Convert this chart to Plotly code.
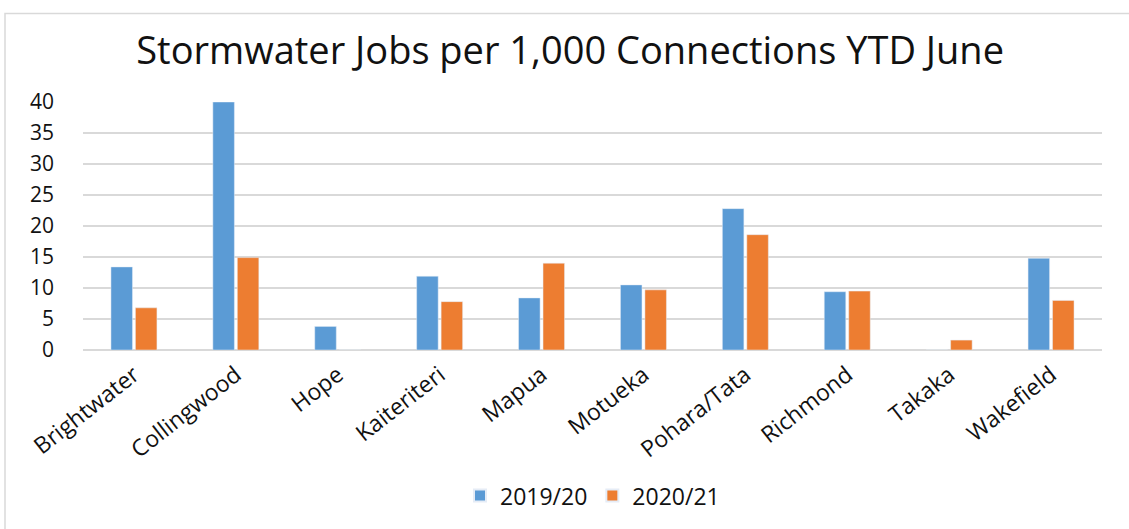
import plotly.graph_objects as go

towns = [
    "Brightwater", "Collingwood", "Hope", "Kaiteriteri", "Mapua",
    "Motueka", "Pohara/Tata", "Richmond", "Takaka", "Wakefield",
]
jobs_2019_20 = [13.4, 40.0, 3.8, 11.9, 8.4, 10.5, 22.8, 9.4, 0, 14.8]
jobs_2020_21 = [6.8, 14.9, 0, 7.8, 14.0, 9.7, 18.6, 9.5, 1.6, 8.0]
y_ticks = [0, 5, 10, 15, 20, 25, 30, 35, 40]

fig = go.Figure()
fig.add_trace(go.Bar(x=towns, y=jobs_2019_20, name="2019/20", marker_color="#5B9BD5"))
fig.add_trace(go.Bar(x=towns, y=jobs_2020_21, name="2020/21", marker_color="#ED7D31"))

fig.update_layout(
    width=1129,
    height=529,
    margin=dict(l=83, r=27, t=102, b=175),
    paper_bgcolor="white",
    plot_bgcolor="white",
    font=dict(family="Open Sans", color="#111111"),
    title=dict(
        text="Stormwater Jobs per 1,000 Connections YTD June",
        x=0.505,
        xanchor="center",
        y=0.905,
        yanchor="middle",
        font=dict(size=38, color="#111111"),
    ),
    barmode="group",
    bargap=0.52,
    bargroupgap=0.12,
    showlegend=True,
    legend=dict(
        orientation="h",
        x=0.5,
        xanchor="center",
        y=(354 - 502) / 252,
        yanchor="middle",
        font=dict(size=23),
        itemsizing="constant",
    ),
    shapes=[
        dict(
            type="rect",
            xref="paper",
            yref="paper",
            x0=(5 - 83) / 1019,
            x1=(1140 - 83) / 1019,
            y0=(354 - 540) / 252,
            y1=(354 - 12) / 252,
            line=dict(color="#D9D9D9", width=1.5),
            layer="below",
        )
    ],
)

fig.update_yaxes(
    range=[0, 40],
    tickvals=y_ticks,
    showgrid=True,
    gridcolor="#D9D9D9",
    gridwidth=1.5,
    zeroline=True,
    zerolinecolor="#D9D9D9",
    zerolinewidth=1.5,
    showline=False,
    ticks="",
    ticklabelstandoff=28,
    tickfont=dict(size=21),
    automargin=False,
)
fig.update_xaxes(
    tickangle=-38,
    tickfont=dict(size=23),
    ticklabelstandoff=6,
    showline=False,
    ticks="",
    automargin=False,
)

fig.write_html(
    "out.html",
    config={"displayModeBar": False},
    post_script="document.body.style.margin='0';",
)
